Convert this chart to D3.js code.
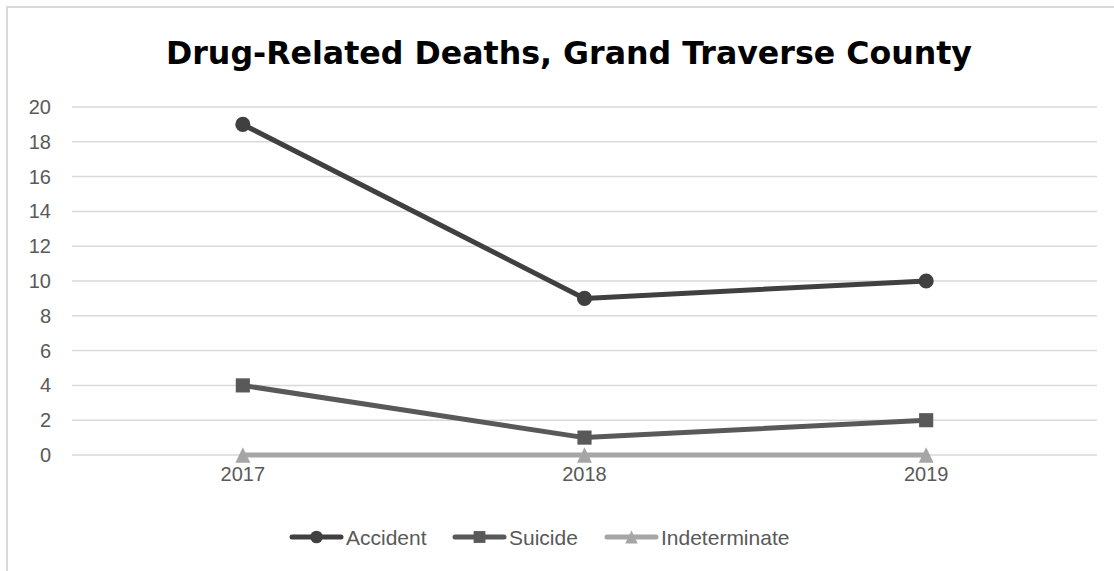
<!DOCTYPE html>
<html>
<head>
<meta charset="utf-8">
<script src="https://cdn.jsdelivr.net/npm/d3@7"></script>
<style>
  body { margin: 0; background: #fff; }
  svg { display: block; }
</style>
</head>
<body>
<div id="chartArea"></div>
<script>
const years = ["2017", "2018", "2019"];
const accident = [19, 9, 10];
const suicide = [4, 1, 2];
const indeterminate = [0, 0, 0];
const yTicks = [0, 2, 4, 6, 8, 10, 12, 14, 16, 18, 20];
const seriesNames = ["Accident", "Suicide", "Indeterminate"];

const width = 1114, height = 571;
const svg = d3.select("#chartArea")
              .append("svg")
              .attr("width", width)
              .attr("height", height);

// chart frame (runs off the right and bottom edge)
svg.append("path")
   .attr("d", `M7,${height + 5} L7,7 L${width + 5},7`)
   .attr("fill", "none")
   .attr("stroke", "#d9d9d9")
   .attr("stroke-width", 2);

svg.append("text")
   .attr("x", 569)
   .attr("y", 64)
   .attr("text-anchor", "middle")
   .attr("textLength", 806)
   .attr("lengthAdjust", "spacingAndGlyphs")
   .style("font-family", "'DejaVu Sans', sans-serif")
   .style("font-weight", "700")
   .style("font-size", "32px")
   .style("fill", "#000")
   .text("Drug-Related Deaths, Grand Traverse County");

const xScale = d3.scaleBand()
                 .domain(years)
                 .range([72, 1097]);
const yScale = d3.scaleLinear()
                 .domain([0, 20])
                 .range([455, 107]);

// gridlines
svg.append("g")
   .selectAll("line")
   .data(yTicks)
   .join("line")
   .attr("x1", 72)
   .attr("x2", 1097)
   .attr("y1", d => yScale(d))
   .attr("y2", d => yScale(d))
   .attr("stroke", "#d9d9d9")
   .attr("stroke-width", 1.5);

const axisFont = g => g.selectAll("text")
   .style("font-family", "'Liberation Sans', Arial, sans-serif")
   .style("font-size", "20px")
   .style("fill", "#595959");

const yAxis = d3.axisLeft(yScale).tickValues(yTicks).tickSize(0).tickPadding(21);
svg.append("g")
   .attr("transform", "translate(72,0)")
   .call(yAxis)
   .call(g => g.select(".domain").remove())
   .call(axisFont);

const xAxis = d3.axisBottom(xScale).tickSize(0).tickPadding(12);
svg.append("g")
   .attr("transform", "translate(0,455)")
   .call(xAxis)
   .call(g => g.select(".domain").remove())
   .call(axisFont);

const cx = d => xScale(d) + xScale.bandwidth() / 2;

// triangle centred on the point like the office marker
const triangle = {
  draw(ctx, size) {
    const h = Math.sqrt(size) * 0.75;
    ctx.moveTo(0, -h);
    ctx.lineTo(h * 0.95, h);
    ctx.lineTo(-h * 0.95, h);
    ctx.closePath();
  }
};

const series = [
  {name: seriesNames[0], values: accident, color: "#404040", symbol: d3.symbolCircle, size: 180},
  {name: seriesNames[1], values: suicide, color: "#595959", symbol: d3.symbolSquare, size: 200},
  {name: seriesNames[2], values: indeterminate, color: "#a6a6a6", symbol: triangle, size: 110}
];

const line = d3.line()
               .x((d, i) => cx(years[i]))
               .y(d => yScale(d));

// draw bottom series first so darker lines sit on top
series.slice().reverse().forEach(s => {
  svg.append("path")
     .attr("d", line(s.values))
     .attr("fill", "none")
     .attr("stroke", s.color)
     .attr("stroke-width", 5)
     .attr("stroke-linecap", "round")
     .attr("stroke-linejoin", "round");
  svg.append("g")
     .selectAll("path")
     .data(s.values)
     .join("path")
     .attr("transform", (d, i) => `translate(${cx(years[i])},${yScale(d)})`)
     .attr("d", d3.symbol().type(s.symbol).size(s.size))
     .attr("fill", s.color);
});

// legend
const legendX = [292, 455, 607];
const legendY = 537;
series.forEach((s, i) => {
  const g = svg.append("g").attr("transform", `translate(${legendX[i]},${legendY})`);
  g.append("line")
   .attr("x1", 0).attr("x2", 49)
   .attr("stroke", s.color)
   .attr("stroke-width", 5)
   .attr("stroke-linecap", "round");
  g.append("path")
   .attr("transform", "translate(24.5,0)")
   .attr("d", d3.symbol().type(s.symbol).size(s.size * 0.7))
   .attr("fill", s.color);
  g.append("text")
   .attr("x", 54)
   .attr("y", 7.5)
   .style("font-family", "'Liberation Sans', Arial, sans-serif")
   .style("font-size", "21px")
   .style("fill", "#595959")
   .text(s.name);
});
</script>
</body>
</html>
